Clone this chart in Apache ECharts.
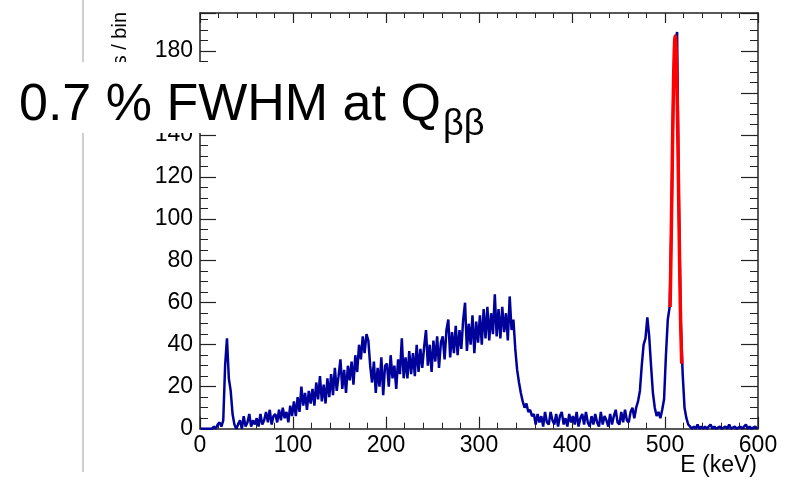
<!DOCTYPE html>
<html>
<head>
<meta charset="utf-8">
<script src="https://cdn.jsdelivr.net/npm/echarts@6/dist/echarts.min.js"></script>
<style>
html,body{margin:0;padding:0;background:#fff;}
#chart{width:788px;height:484px;}
</style>
</head>
<body>
<div id="chart"></div>
<script>
// ---- data ----
const binStart = 0;      // keV
const binWidth = 2;      // keV per bin
const counts = [
  0,0,0,0,0,0,0,1,0,2,          // 0-20
  3,1,4,30,43,24,18,7,2,0,      // 20-40
  2,4,0,6,1,3,7,1,4,2,          // 40-60
  5,1,7,2,4,8,3,9,2,6,          // 60-80
  7,3,9,4,10,5,8,3,11,6,        // 80-100
  13,6,15,8,20,11,17,9,18,12,   // 100-120
  19,11,22,14,25,13,21,12,24,15,// 120-140
  26,16,29,18,25,33,19,28,17,30,// 140-160
  23,32,21,35,27,40,33,44,36,45,// 160-180
  42,30,22,32,17,29,20,34,16,30,// 180-200
  31,20,35,24,30,19,33,26,43,24,// 200-220
  34,24,37,26,36,25,40,27,38,29,// 220-240
  39,47,30,40,27,42,32,44,29,41,// 240-260
  44,33,47,52,34,46,36,49,35,47,// 260-280
  38,52,60,37,50,40,54,36,51,41,// 280-300
  54,40,57,43,58,42,55,45,64,44,// 300-320
  57,43,58,46,55,42,63,47,52,38,// 320-340
  28,22,17,13,10,12,8,9,6,7,    // 340-360
  2,7,3,6,1,8,3,2,8,4,          // 360-380
  2,7,1,6,8,2,5,1,7,3,          // 380-400
  6,2,8,1,5,7,2,8,3,1,          // 400-420
  6,2,7,3,1,8,2,6,4,1,          // 420-440
  7,2,6,9,3,2,8,3,9,4,          // 440-460
  3,8,10,5,10,13,18,30,40,43,   // 460-480
  53,44,30,17,10,6,8,5,9,14,    // 480-500
  35,52,58,98,162,183,189,104,50,26, // 500-520
  10,5,2,1,0,1,0,2,0,1,         // 520-540
  0,1,0,0,2,0,1,0,0,1,          // 540-560
  0,0,1,0,2,0,0,1,0,0,          // 560-580
  1,0,0,2,0,1,0,0,1,0           // 580-600
];
const fitEnergy = [505.5,506,507,508,509,510,511,512,513,514,515,516,517,518];
const fitCounts = [58,71,101,132,160,180,187,180,160,132,101,71,47,31];
const xTicks = [0,100,200,300,400,500,600];
const yTicks = [0,20,40,60,80,100,120,140,160,180];
const xTitle = 'E (keV)';
const yTitle = 'Counts / bin';
const overlayMain = '0.7 % FWHM at Q';
const overlaySub = 'ββ';

// ---- build series data ----
const histData = counts.map((c, i) => [binStart + binWidth * i + binWidth / 2, c]);
const fitData = fitEnergy.map((e, i) => [e, fitCounts[i]]);

const FONT = '"Liberation Sans", Arial, Helvetica, sans-serif';
const frameColor = '#222';

function xAxisCfg(pos, showLabel, major, minor) {
  return {
    type: 'value', position: pos, min: xTicks[0], max: xTicks[xTicks.length - 1],
    interval: xTicks[1] - xTicks[0],
    axisLine: { show: true, onZero: false, lineStyle: { color: frameColor, width: 1.5 } },
    axisTick: { show: true, inside: true, length: major, lineStyle: { color: frameColor, width: 1.2 } },
    minorTick: { show: true, splitNumber: 5, length: minor, lineStyle: { color: frameColor, width: 1 } },
    splitLine: { show: false },
    axisLabel: { show: showLabel, color: '#000', fontSize: 23, fontFamily: FONT, margin: 5 }
  };
}
function yAxisCfg(pos, showLabel, major, minor) {
  return {
    type: 'value', position: pos, min: yTicks[0], max: 198,
    interval: yTicks[1] - yTicks[0],
    axisLine: { show: true, onZero: false, lineStyle: { color: frameColor, width: 1.5 } },
    axisTick: { show: true, inside: true, length: major, lineStyle: { color: frameColor, width: 1.2 } },
    minorTick: { show: true, splitNumber: 4, length: minor, lineStyle: { color: frameColor, width: 1 } },
    splitLine: { show: false },
    axisLabel: { show: showLabel, color: '#000', fontSize: 23, fontFamily: FONT, margin: 7, showMaxLabel: false }
  };
}

const chart = echarts.init(document.getElementById('chart'), null, { renderer: 'canvas' });
chart.setOption({
  animation: false,
  backgroundColor: '#fff',
  grid: { left: 200, top: 13, width: 558, height: 415.7, containLabel: false },
  xAxis: [xAxisCfg('bottom', true, 12, 6), xAxisCfg('top', false, 10, 5)],
  yAxis: [yAxisCfg('left', true, 16, 8), yAxisCfg('right', false, 17, 8)],
  series: [
    {
      type: 'line', name: 'data', xAxisIndex: 0, yAxisIndex: 0,
      data: histData, symbol: 'none',
      lineStyle: { color: '#00009a', width: 2.5 }, z: 3
    },
    {
      type: 'line', name: 'fit', xAxisIndex: 0, yAxisIndex: 0,
      data: fitData, smooth: true, symbol: 'none',
      lineStyle: { color: '#ff0000', width: 3.5 }, z: 4
    }
  ],
  graphic: [
    { type: 'line', z: 1, shape: { x1: 83, y1: 0, x2: 83, y2: 472 },
      style: { stroke: '#cfcfcf', lineWidth: 2 } },
    { type: 'text', z: 5, x: 120, y: 12, rotation: Math.PI / 2,
      style: { text: yTitle, fill: '#000', font: '20px ' + FONT,
               align: 'right', verticalAlign: 'middle', textAlign: 'right', textVerticalAlign: 'middle' } },
    { type: 'text', z: 5, x: 757, y: 466,
      style: { text: xTitle, fill: '#000', font: '23px ' + FONT,
               align: 'right', verticalAlign: 'middle', textAlign: 'right', textVerticalAlign: 'middle' } },
    { type: 'rect', z: 50, shape: { x: 0, y: 62, width: 510, height: 71 },
      style: { fill: '#fff' } },
    { type: 'text', z: 51, x: 19, y: 106,
      style: { text: overlayMain, fill: '#000', font: '52px ' + FONT,
               align: 'left', verticalAlign: 'middle', textAlign: 'left', textVerticalAlign: 'middle' } },
    { type: 'text', z: 51, x: 443, y: 125,
      style: { text: overlaySub, fill: '#000', font: '36px ' + FONT,
               align: 'left', verticalAlign: 'middle', textAlign: 'left', textVerticalAlign: 'middle' } }
  ]
});
</script>
</body>
</html>
